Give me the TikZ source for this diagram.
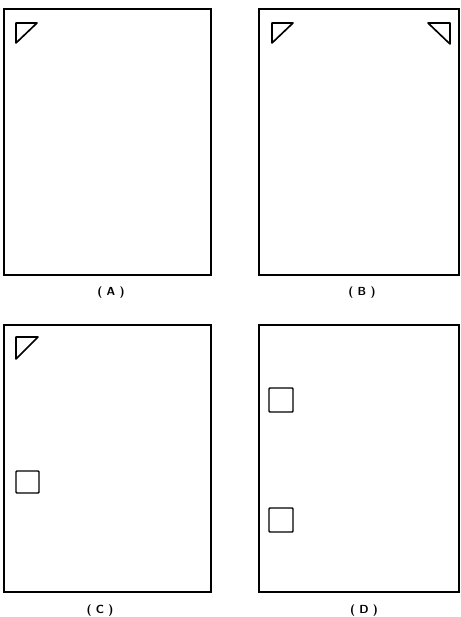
\documentclass[tikz,border=0pt]{standalone}
\usepackage{tikz}
\usetikzlibrary{positioning}
\tikzset{
  panel/.style={line width=2.4pt, line join=miter},
  corner/.style={line width=1.4pt, line join=round},
  marksq/.style={line width=1.2pt, rounded corners=0.8pt},
  panellabel/.style={font=\sffamily\bfseries, inner sep=0pt}
}
\begin{document}
\begin{tikzpicture}[x=0.03cm, y=-0.03cm]
  \useasboundingbox (0,0) rectangle (461,617);

  % Marcos de las cuatro hojas
  \foreach \xa/\ya/\xb/\yb in {4/9/211/275, 259/9/459/275,
                               4/325/211/592, 259/325/459/592}{
    \draw[panel] (\xa,\ya) rectangle (\xb,\yb);
  }

  % Etiquetas
  \node[panellabel] (labA) at (111,293) {( A )};
  \node[panellabel] (labB) at (362,293) {( B )};
  \node[panellabel] (labC) at (100,611) {( C )};
  \node[panellabel] (labD) at (364,611) {( D )};

  % Triangulos de esquina
  \draw[corner] (16,23) -- (37,23) -- (16,43) -- cycle;
  \draw[corner] (272,23) -- (293,23) -- (272,43) -- cycle;
  \draw[corner] (428,23) -- (450,23) -- (450,44) -- cycle;
  \draw[corner] (16,337) -- (38,337) -- (16,359) -- cycle;

  % Cuadrados
  \draw[marksq] (16,471) rectangle (39,493);
  \foreach \y in {388, 508}{
    \draw[marksq] (269,\y) rectangle (293,\y+24);
  }
\end{tikzpicture}
\end{document}
